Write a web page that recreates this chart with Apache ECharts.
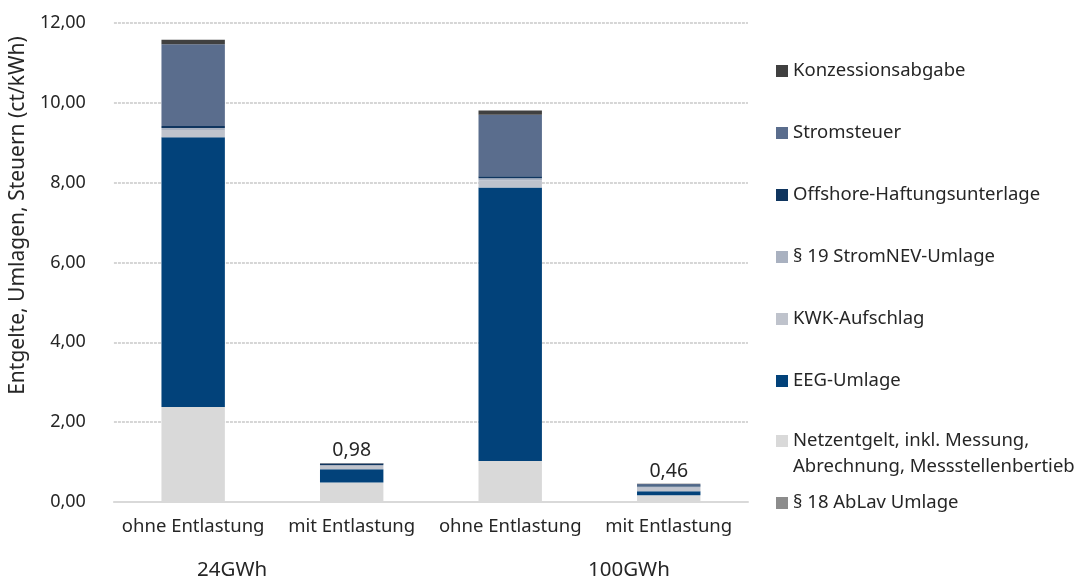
<!DOCTYPE html>
<html>
<head>
<meta charset="utf-8">
<script src="https://cdn.jsdelivr.net/npm/echarts@6/dist/echarts.min.js"></script>
<style>html,body{margin:0;padding:0;background:#fff}#c{width:1083px;height:583px}</style>
</head>
<body>
<div id="c"></div>
<script>
var categories = ['ohne Entlastung', 'mit Entlastung', 'ohne Entlastung', 'mit Entlastung'];
var groups = ['24GWh', '100GWh'];
var yTicks = [0, 2, 4, 6, 8, 10, 12];

var ablav = [0, 0, 0, 0];
var netzentgelt = [2.38, 0.49, 1.03, 0.17];
var eeg = [6.76, 0.33, 6.85, 0.10];
var kwk = [0.18, 0.08, 0.18, 0.09];
var stromnev = [0.05, 0.03, 0.05, 0.03];
var offshore = [0.05, 0.03, 0.05, 0.03];
var stromsteuer = [2.05, 0.01, 1.54, 0.03];
var konzession = [0.11, 0.01, 0.11, 0.01];
var totalLabelShown = [false, true, false, true];

var names = {
  ablav: '§ 18 AbLav Umlage',
  netz: 'Netzentgelt, inkl. Messung,\nAbrechnung, Messstellenbertieb',
  eeg: 'EEG-Umlage',
  kwk: 'KWK-Aufschlag',
  nev: '§ 19 StromNEV-Umlage',
  off: 'Offshore-Haftungsunterlage',
  steuer: 'Stromsteuer',
  konz: 'Konzessionsabgabe'
};

var allSeries = [ablav, netzentgelt, eeg, kwk, stromnev, offshore, stromsteuer, konzession];
var totals = categories.map(function (_, i) {
  return allSeries.reduce(function (s, arr) { return s + arr[i]; }, 0);
});

var FONT = 'Noto Sans';
var TXT = '#262626';

function bar(name, data, color, extra) {
  var s = {
    name: name, type: 'bar', stack: 'total', data: data, barWidth: '40%',
    itemStyle: { color: color }, emphasis: { disabled: true }
  };
  if (extra) for (var k in extra) s[k] = extra[k];
  return s;
}

var legendCommon = {
  orient: 'vertical', left: 771, itemWidth: 12, itemHeight: 12, itemGap: 36,
  icon: 'rect', selectedMode: false,
  textStyle: { fontFamily: FONT, fontSize: 18.5, color: TXT, lineHeight: 26 }
};

var option = {
  animation: false,
  backgroundColor: '#fff',
  grid: { left: 113, right: 335, top: 23, bottom: 81 },
  legend: [
    Object.assign({}, legendCommon, {
      top: 53,
      data: [names.konz, names.steuer, names.off, names.nev, names.kwk, names.eeg]
    }),
    Object.assign({}, legendCommon, {
      top: 397,
      data: [names.netz],
      formatter: function (n) { return '\n' + n; }
    }),
    Object.assign({}, legendCommon, {
      top: 485,
      data: [names.ablav]
    })
  ],
  xAxis: {
    type: 'category', data: categories,
    axisLine: { lineStyle: { color: '#d9d9d9', width: 2 } },
    axisTick: { show: false },
    axisLabel: { fontFamily: FONT, fontSize: 18.5, color: TXT, margin: 15, interval: 0 }
  },
  yAxis: {
    type: 'value', min: yTicks[0], max: yTicks[yTicks.length - 1], interval: 2,
    name: 'Entgelte, Umlagen, Steuern (ct/kWh)',
    nameLocation: 'middle', nameGap: 75,
    nameTextStyle: { fontFamily: FONT, fontSize: 21, color: TXT, padding: [0, 0, 0, 94] },
    axisLine: { show: false }, axisTick: { show: false },
    axisLabel: {
      fontFamily: FONT, fontSize: 18, color: TXT, margin: 28,
      formatter: function (v) { return v.toFixed(2).replace('.', ','); }
    },
    splitLine: { lineStyle: { color: '#d6d6d6', width: 2, type: [3, 1] } }
  },
  graphic: [
    { type: 'text', left: 197, top: 560, style: { text: groups[0], fontFamily: FONT, fontSize: 20.5, fill: TXT } },
    { type: 'text', left: 588, top: 560, style: { text: groups[1], fontFamily: FONT, fontSize: 20.5, fill: TXT } }
  ],
  series: [
    bar(names.ablav, ablav, '#8c8c8c'),
    bar(names.netz, netzentgelt, '#d9d9d9'),
    bar(names.eeg, eeg, '#02427a'),
    bar(names.kwk, kwk, '#bfc3cc'),
    bar(names.nev, stromnev, '#a9b1c0'),
    bar(names.off, offshore, '#0f355f'),
    bar(names.steuer, stromsteuer, '#5a6d8d'),
    bar(names.konz, konzession, '#404040', {
      label: {
        show: true, position: 'top', distance: 2,
        fontFamily: FONT, fontSize: 19.5, color: TXT,
        formatter: function (p) {
          return totalLabelShown[p.dataIndex] ? totals[p.dataIndex].toFixed(2).replace('.', ',') : '';
        }
      }
    })
  ]
};

echarts.init(document.getElementById('c'), null, { renderer: 'canvas' }).setOption(option);
</script>
</body>
</html>
